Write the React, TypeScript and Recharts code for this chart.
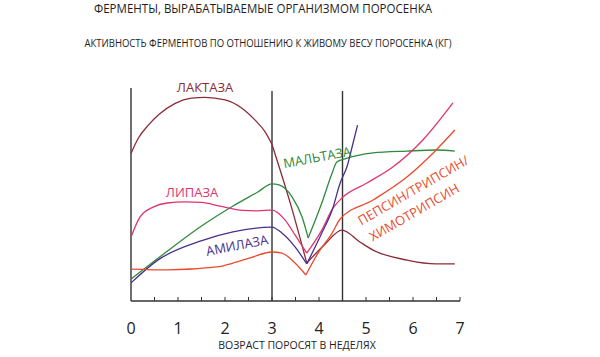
import { LineChart, Line, XAxis, YAxis, ReferenceLine } from 'recharts'

// ─── Data (activity on a 0–100 scale, age in weeks) ─────────────
type Pt = { week: number; value: number }

const WEEK_TICKS = [0, 1, 2, 3, 4, 5, 6, 7]
const HALF_WEEK_MARKS = [0.5, 1, 1.5, 2, 2.5, 3, 3.5, 4, 4.5, 5, 5.5, 6, 6.5, 7]
const PHASE_LINES = [3, 4.5]

const lactase: Pt[] = [
  { week: 0, value: 69.3 }, { week: 0.155, value: 76.4 }, { week: 0.37, value: 82.6 },
  { week: 0.58, value: 87.3 }, { week: 0.94, value: 92.8 }, { week: 1.29, value: 95.2 },
  { week: 1.57, value: 95.6 }, { week: 2.0, value: 94.4 }, { week: 2.36, value: 90.5 },
  { week: 2.64, value: 84.9 }, { week: 2.85, value: 79.5 }, { week: 3, value: 73.5 },
  { week: 3.4, value: 45.1 }, { week: 3.74, value: 17.8 }, { week: 4.11, value: 26.3 },
  { week: 4.49, value: 33.3 }, { week: 4.87, value: 27.7 }, { week: 5.15, value: 23.9 },
  { week: 5.87, value: 19.2 }, { week: 6.49, value: 17.4 }, { week: 6.89, value: 17.4 },
]

const maltase: Pt[] = [
  { week: 0, value: 10.3 }, { week: 0.72, value: 22.5 }, { week: 1.5, value: 35.2 },
  { week: 2.17, value: 44.6 }, { week: 2.7, value: 51.2 }, { week: 3, value: 55.0 },
  { week: 3.15, value: 54.5 }, { week: 3.43, value: 48.8 }, { week: 3.64, value: 39.4 },
  { week: 3.77, value: 29.6 }, { week: 4.06, value: 46.0 }, { week: 4.28, value: 60.1 },
  { week: 4.38, value: 65.3 }, { week: 4.55, value: 66.7 }, { week: 5.15, value: 69.5 },
  { week: 5.87, value: 70.4 }, { week: 6.49, value: 70.9 }, { week: 6.89, value: 70.4 },
]

const lipase: Pt[] = [
  { week: 0, value: 30.0 }, { week: 0.19, value: 39.4 }, { week: 0.47, value: 44.1 },
  { week: 0.77, value: 46.0 }, { week: 1.15, value: 46.5 }, { week: 1.5, value: 46.3 },
  { week: 1.89, value: 44.5 }, { week: 2.38, value: 42.5 }, { week: 2.7, value: 42.3 },
  { week: 3, value: 42.7 }, { week: 3.28, value: 38.0 }, { week: 3.49, value: 31.0 },
  { week: 3.74, value: 22.5 }, { week: 4.06, value: 33.3 }, { week: 4.3, value: 43.7 },
  { week: 4.49, value: 48.4 }, { week: 5.02, value: 55.4 }, { week: 5.57, value: 62.9 },
  { week: 6.21, value: 75.6 }, { week: 6.85, value: 93.0 },
]

const amylase: Pt[] = [
  { week: 0, value: 8.5 }, { week: 0.57, value: 19.2 }, { week: 1.49, value: 28.2 },
  { week: 2.17, value: 32.4 }, { week: 3, value: 34.7 }, { week: 3.21, value: 31.9 },
  { week: 3.49, value: 25.4 }, { week: 3.74, value: 17.4 }, { week: 4.06, value: 31.9 },
  { week: 4.28, value: 42.7 }, { week: 4.45, value: 55.4 }, { week: 4.6, value: 63.4 },
  { week: 4.72, value: 73.7 }, { week: 4.82, value: 82.6 },
]

const pepsin: Pt[] = [
  { week: 0, value: 15.0 }, { week: 0.77, value: 14.6 }, { week: 1.83, value: 16.0 },
  { week: 2.17, value: 17.8 }, { week: 2.53, value: 20.2 }, { week: 3, value: 23.0 },
  { week: 3.21, value: 22.5 }, { week: 3.49, value: 17.8 }, { week: 3.72, value: 12.2 },
  { week: 3.98, value: 22.5 }, { week: 4.28, value: 31.9 }, { week: 4.45, value: 38.5 },
  { week: 5.15, value: 47.4 }, { week: 5.87, value: 58.2 }, { week: 6.43, value: 69.5 },
  { week: 6.89, value: 80.3 },
]

// sharp corners in the curves: split there so each piece is smoothed on its own
function split(data: Pt[], at: number[]) {
  const cuts = [-Infinity, ...at, Infinity]
  return cuts.slice(1).map((c, i) => data.filter((p) => p.week >= cuts[i] && p.week <= c))
}

const SERIES = [
  { name: 'lactase', data: lactase, cusps: [3, 3.74], color: '#8c2c36' },
  { name: 'maltase', data: maltase, cusps: [3.77], color: '#2f8a3c' },
  { name: 'lipase', data: lipase, cusps: [3.74], color: '#df3470' },
  { name: 'amylase', data: amylase, cusps: [3.74], color: '#4a2f8c' },
  { name: 'pepsin', data: pepsin, cusps: [3.72], color: '#ea4a2e' },
]

const FONT = '"Open Sans", sans-serif'

export default function App() {
  return (
    <div style={{ position: 'absolute', left: 0, top: 0, width: 600, height: 357, background: '#fff' }}>
      <LineChart width={600} height={357} margin={{ top: 88, right: 140, bottom: 0, left: 131 }}>
        <XAxis
          type="number"
          dataKey="week"
          domain={[0, 7]}
          ticks={WEEK_TICKS}
          height={56}
          tickLine={false}
          tickSize={0}
          tickMargin={22}
          axisLine={{ stroke: '#333', strokeWidth: 1.4 }}
          tick={{ fontSize: 16, fill: '#222', fontFamily: FONT }}
        />
        <YAxis type="number" domain={[0, 100]} hide />
        <ReferenceLine segment={[{ x: 0, y: 0 }, { x: 0, y: 100 }]} stroke="#333" strokeWidth={1.4} />
        {PHASE_LINES.map((w) => (
          <ReferenceLine key={w} segment={[{ x: w, y: 0 }, { x: w, y: 98.6 }]} stroke="#333" strokeWidth={1.4} />
        ))}
        {HALF_WEEK_MARKS.map((w) => (
          <ReferenceLine key={'m' + w} segment={[{ x: w, y: 0 }, { x: w, y: 1.9 }]} stroke="#333" strokeWidth={1} />
        ))}
        {SERIES.flatMap((s) =>
          split(s.data, s.cusps).map((seg, i) => (
            <Line
              key={s.name + i}
              data={seg}
              dataKey="value"
              type="monotone"
              stroke={s.color}
              strokeWidth={1.3}
              dot={false}
              activeDot={false}
              isAnimationActive={false}
            />
          ))
        )}
      </LineChart>

      <svg width={600} height={357} style={{ position: 'absolute', left: 0, top: 0, pointerEvents: 'none', fontFamily: FONT }}>
        <text x={263} y={13} textAnchor="middle" fontSize={12.5} textLength={338} lengthAdjust="spacingAndGlyphs" fill="#1e1e1e">
          ФЕРМЕНТЫ, ВЫРАБАТЫВАЕМЫЕ ОРГАНИЗМОМ ПОРОСЕНКА
        </text>
        <text x={268} y={46.5} textAnchor="middle" fontSize={10.5} textLength={367} lengthAdjust="spacingAndGlyphs" fill="#1e1e1e">
          АКТИВНОСТЬ ФЕРМЕНТОВ ПО ОТНОШЕНИЮ К ЖИВОМУ ВЕСУ ПОРОСЕНКА (КГ)
        </text>
        <text x={297} y={348.5} textAnchor="middle" fontSize={10.5} fill="#1e1e1e">
          ВОЗРАСТ ПОРОСЯТ В НЕДЕЛЯХ
        </text>

        <text x={205} y={92} textAnchor="middle" fontSize={13} fill="#8c2c36">ЛАКТАЗА</text>
        <text x={192} y={197} textAnchor="middle" fontSize={13} fill="#df3470">ЛИПАЗА</text>
        <text transform="translate(237,245) rotate(-11)" textAnchor="middle" dominantBaseline="central" fontSize={13} fill="#4a2f8c">
          АМИЛАЗА
        </text>
        <text transform="translate(317,157) rotate(-10.5)" textAnchor="middle" dominantBaseline="central" fontSize={13} fill="#2f8a3c">
          МАЛЬТАЗА
        </text>
        <text transform="translate(413,190) rotate(-30)" textAnchor="middle" dominantBaseline="central" fontSize={13} fill="#ea4a2e">
          ПЕПСИН/ТРИПСИН/
        </text>
        <text transform="translate(414,212) rotate(-30)" textAnchor="middle" dominantBaseline="central" fontSize={13} fill="#ea4a2e">
          ХИМОТРИПСИН
        </text>
      </svg>
    </div>
  )
}
